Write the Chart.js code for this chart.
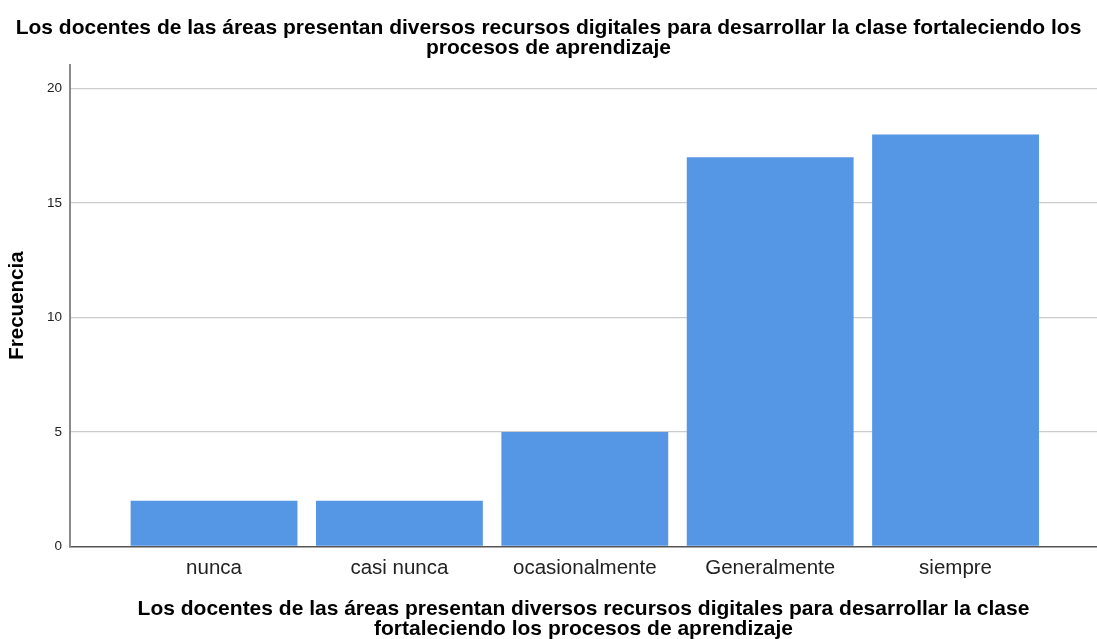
<!DOCTYPE html>
<html>
<head>
<meta charset="utf-8">
<script src="https://cdn.jsdelivr.net/npm/chart.js@4.4.1/dist/chart.umd.min.js"></script>
<style>
  html, body { margin: 0; padding: 0; background: #ffffff; }
  #wrap { width: 1097px; height: 639px; position: relative; }
</style>
</head>
<body>
<div id="wrap"><canvas id="c"></canvas></div>
<script>
const categories = ["nunca", "casi nunca", "ocasionalmente", "Generalmente", "siempre"];
const frequencies = [2, 2, 5, 17, 18];
const yTicks = [0, 5, 10, 15, 20];
const titleLines = [
  "Los docentes de las áreas presentan diversos recursos digitales para desarrollar la clase fortaleciendo los",
  "procesos de aprendizaje"
];
const xTitleLines = [
  "Los docentes de las áreas presentan diversos recursos digitales para desarrollar la clase",
  "fortaleciendo los procesos de aprendizaje"
];
const yTitle = "Frecuencia";

const FONT = "'Liberation Sans', Arial, sans-serif";

new Chart(document.getElementById('c'), {
  type: 'bar',
  data: {
    datasets: [{
      data: frequencies.map((v, i) => ({ x: i, y: v })),
      backgroundColor: '#5596e5',
      borderWidth: 0,
      barPercentage: 0.9,
      categoryPercentage: 1.0
    }]
  },
  options: {
    responsive: true,
    maintainAspectRatio: false,
    animation: false,
    layout: { padding: { left: 0, right: 0, top: 0, bottom: 0 } },
    plugins: {
      legend: { display: false },
      tooltip: { enabled: false },
      title: {
        display: true,
        text: titleLines,
        color: '#000000',
        font: { family: FONT, size: 21, weight: 'bold', lineHeight: 0.92 },
        padding: { top: 19, bottom: 7 }
      }
    },
    scales: {
      x: {
        type: 'linear',
        min: -0.777,
        max: 4.763,
        offset: false,
        afterBuildTicks: (scale) => { scale.ticks = categories.map((c, i) => ({ value: i })); },
        ticks: {
          autoSkip: false,
          maxRotation: 0,
          minRotation: 0,
          padding: 10,
          color: '#222222',
          font: { family: FONT, size: 20.5 },
          callback: (v) => categories[v]
        },
        grid: { display: false, drawTicks: false },
        border: { display: true, color: '#555555', width: 1.5 },
        title: {
          display: true,
          text: xTitleLines,
          color: '#000000',
          font: { family: FONT, size: 21, weight: 'bold', lineHeight: 0.95 },
          padding: { top: 8, bottom: 0 }
        }
      },
      y: {
        type: 'linear',
        min: 0,
        max: 21.05,
        afterBuildTicks: (scale) => { scale.ticks = yTicks.map(v => ({ value: v })); },
        afterFit: (scale) => { scale.width = 70; },
        ticks: {
          padding: 8,
          color: '#222222',
          font: { family: FONT, size: 13.5 },
          callback: (v) => String(v)
        },
        grid: {
          drawTicks: false,
          color: (ctx) => ctx.tick && ctx.tick.value === 0 ? 'rgba(0,0,0,0)' : '#cccccc',
          lineWidth: 1.3
        },
        border: { display: true, color: '#8a8a8a', width: 2 },
        title: {
          display: true,
          text: yTitle,
          color: '#000000',
          font: { family: FONT, size: 20.5, weight: 'bold' },
          padding: { top: 5, bottom: 0 }
        }
      }
    }
  }
});
</script>
</body>
</html>
